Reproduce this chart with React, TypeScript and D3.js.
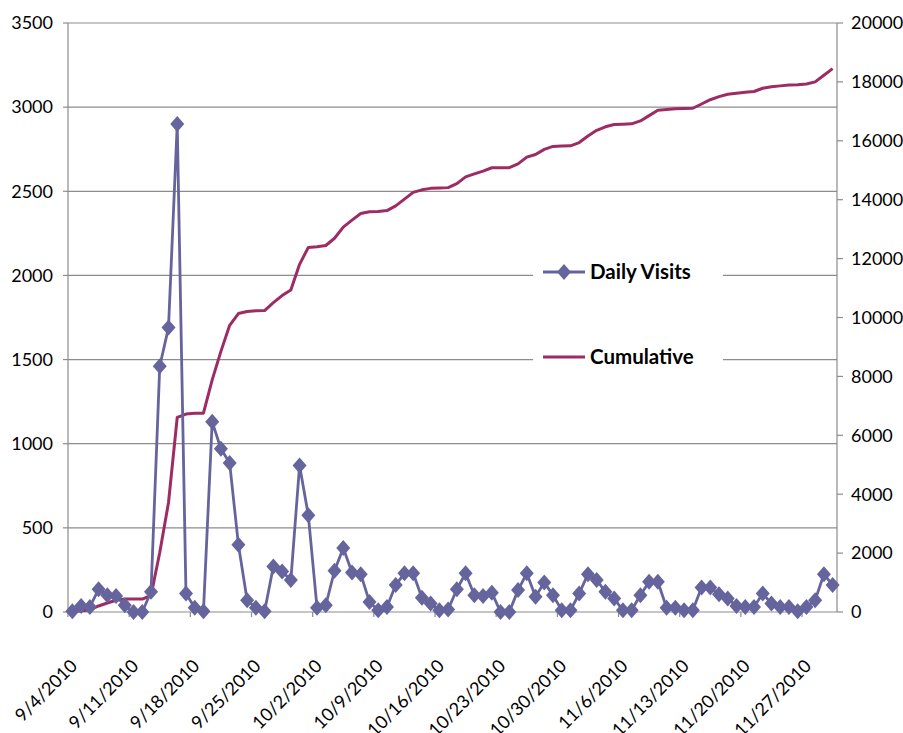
import React from "react";
import * as d3 from "d3";

const startDate = "2010-09-04";
const dailyVisits = [
  5, 35, 30, 135, 100, 95, 40, 0, 0, 120,
  1460, 1690, 2900, 110, 25, 5, 1130, 970, 885, 400,
  70, 25, 5, 270, 240, 190, 870, 575, 25, 40,
  245, 380, 235, 225, 60, 10, 30, 160, 230, 230,
  85, 50, 10, 15, 135, 230, 100, 95, 115, 0,
  0, 130, 230, 90, 175, 100, 10, 10, 110, 225,
  190, 120, 80, 10, 10, 100, 180, 180, 25, 25,
  10, 10, 145, 145, 105, 80, 35, 30, 30, 110,
  50, 30, 30, 5, 30, 70, 225, 160,
];
const cumulative = [
  5, 40, 70, 205, 305, 400, 440, 440, 440, 560,
  2020, 3710, 6610, 6720, 6745, 6750, 7880, 8850, 9735, 10135,
  10205, 10230, 10235, 10505, 10745, 10935, 11805, 12380, 12405, 12445,
  12690, 13070, 13305, 13530, 13590, 13600, 13630, 13790, 14020, 14250,
  14335, 14385, 14395, 14410, 14545, 14775, 14875, 14970, 15085, 15085,
  15085, 15215, 15445, 15535, 15710, 15810, 15820, 15830, 15940, 16165,
  16355, 16475, 16555, 16565, 16575, 16675, 16855, 17035, 17060, 17085,
  17095, 17105, 17250, 17395, 17500, 17580, 17615, 17645, 17675, 17785,
  17835, 17865, 17895, 17900, 17930, 18000, 18225, 18450,
];
const leftTicks = [0, 500, 1000, 1500, 2000, 2500, 3000, 3500];
const rightTicks = [0, 2000, 4000, 6000, 8000, 10000, 12000, 14000, 16000, 18000, 20000];
const xTickLabels = [
  "9/4/2010", "9/11/2010", "9/18/2010", "9/25/2010", "10/2/2010", "10/9/2010",
  "10/16/2010", "10/23/2010", "10/30/2010", "11/6/2010", "11/13/2010", "11/20/2010", "11/27/2010",
];
const seriesNames = ["Daily Visits", "Cumulative"];

const DAILY_COLOR = "#65649D";
const CUM_COLOR = "#9C2C63";
const GRID = "#8C8C8C";
const FONT = "Lato, 'Open Sans', sans-serif";

export default function App() {
  const left = 68, right = 837, top = 23, bottom = 612;
  const n = dailyVisits.length;
  const start = new Date(startDate + "T00:00:00");
  const dates = dailyVisits.map((_, i) => d3.timeDay.offset(start, i));

  const xBand = d3.scaleBand<number>().domain(d3.range(n)).range([left, right]).padding(0);
  const xc = (i: number) => (xBand(i) as number) + xBand.bandwidth() / 2;
  const yL = d3.scaleLinear().domain([0, 3500]).range([bottom, top]);
  const yR = d3.scaleLinear().domain([0, 20000]).range([bottom, top]);

  const dailyLine = d3.line<number>().x((_, i) => xc(i)).y((d) => yL(d));
  const cumLine = d3.line<number>().x((_, i) => xc(i)).y((d) => yR(d));

  const fmt = d3.timeFormat("%-m/%-d/%Y");
  const labelIdx = dates.map((d, i) => i).filter((i) => xTickLabels.includes(fmt(dates[i])));
  const tickBoundaries = d3.range(0, n, 7);

  const diamond = (cx: number, cy: number, w = 7, h = 8) =>
    `M${cx},${cy - h}L${cx + w},${cy}L${cx},${cy + h}L${cx - w},${cy}Z`;

  return (
    <svg
      width={903}
      height={733}
      style={{ position: "absolute", left: 0, top: 0, background: "#fff" }}
      fontFamily={FONT}
    >
      {leftTicks.slice(1).map((t) => (
        <line key={"g" + t} x1={left} x2={right} y1={yL(t)} y2={yL(t)} stroke={GRID} strokeWidth={1.2} />
      ))}
      <line x1={left} x2={left} y1={top} y2={bottom} stroke={GRID} strokeWidth={1.2} />
      <line x1={right} x2={right} y1={top} y2={bottom} stroke={GRID} strokeWidth={1.2} />
      <line x1={left} x2={right} y1={bottom} y2={bottom} stroke={GRID} strokeWidth={1.2} />
      {leftTicks.map((t) => (
        <g key={"l" + t}>
          <line x1={left - 5} x2={left} y1={yL(t)} y2={yL(t)} stroke={GRID} strokeWidth={1.2} />
          <text x={53} y={yL(t)} dy="0.35em" textAnchor="end" fontSize={18} fill="#000">
            {t}
          </text>
        </g>
      ))}
      {rightTicks.map((t) => (
        <g key={"r" + t}>
          <line x1={right} x2={right + 6} y1={yR(t)} y2={yR(t)} stroke={GRID} strokeWidth={1.2} />
          <text x={851} y={yR(t)} dy="0.35em" textAnchor="start" fontSize={18} fill="#000">
            {t}
          </text>
        </g>
      ))}
      {tickBoundaries.map((i) => (
        <line key={"xt" + i} x1={xBand(i) as number} x2={xBand(i) as number} y1={bottom} y2={bottom + 5} stroke={GRID} strokeWidth={1.2} />
      ))}
      {labelIdx.map((i) => {
        const x = xc(i) + 6;
        const y = 667;
        return (
          <text key={"xl" + i} x={x} y={y} textAnchor="end" fontSize={18} fill="#000" transform={`rotate(-45 ${x} ${y})`}>
            {fmt(dates[i])}
          </text>
        );
      })}

      <path d={cumLine(cumulative) || ""} fill="none" stroke={CUM_COLOR} strokeWidth={3} strokeLinejoin="round" />
      <path d={dailyLine(dailyVisits) || ""} fill="none" stroke={DAILY_COLOR} strokeWidth={2.8} strokeLinejoin="round" />
      {dailyVisits.map((v, i) => (
        <path key={"d" + i} d={diamond(xc(i), yL(v))} fill={DAILY_COLOR} />
      ))}

      <rect x={533} y={235} width={190} height={160} fill="#fff" />
      <line x1={543} x2={585} y1={272} y2={272} stroke={DAILY_COLOR} strokeWidth={3} />
      <path d={diamond(564, 272)} fill={DAILY_COLOR} />
      <text x={590} y={272} dy="0.35em" fontSize={20.5} fontWeight="bold" fill="#000">
        {seriesNames[0]}
      </text>
      <line x1={543} x2={585} y1={357} y2={357} stroke={CUM_COLOR} strokeWidth={3} />
      <text x={590} y={357} dy="0.35em" fontSize={20.5} fontWeight="bold" fill="#000">
        {seriesNames[1]}
      </text>
    </svg>
  );
}
